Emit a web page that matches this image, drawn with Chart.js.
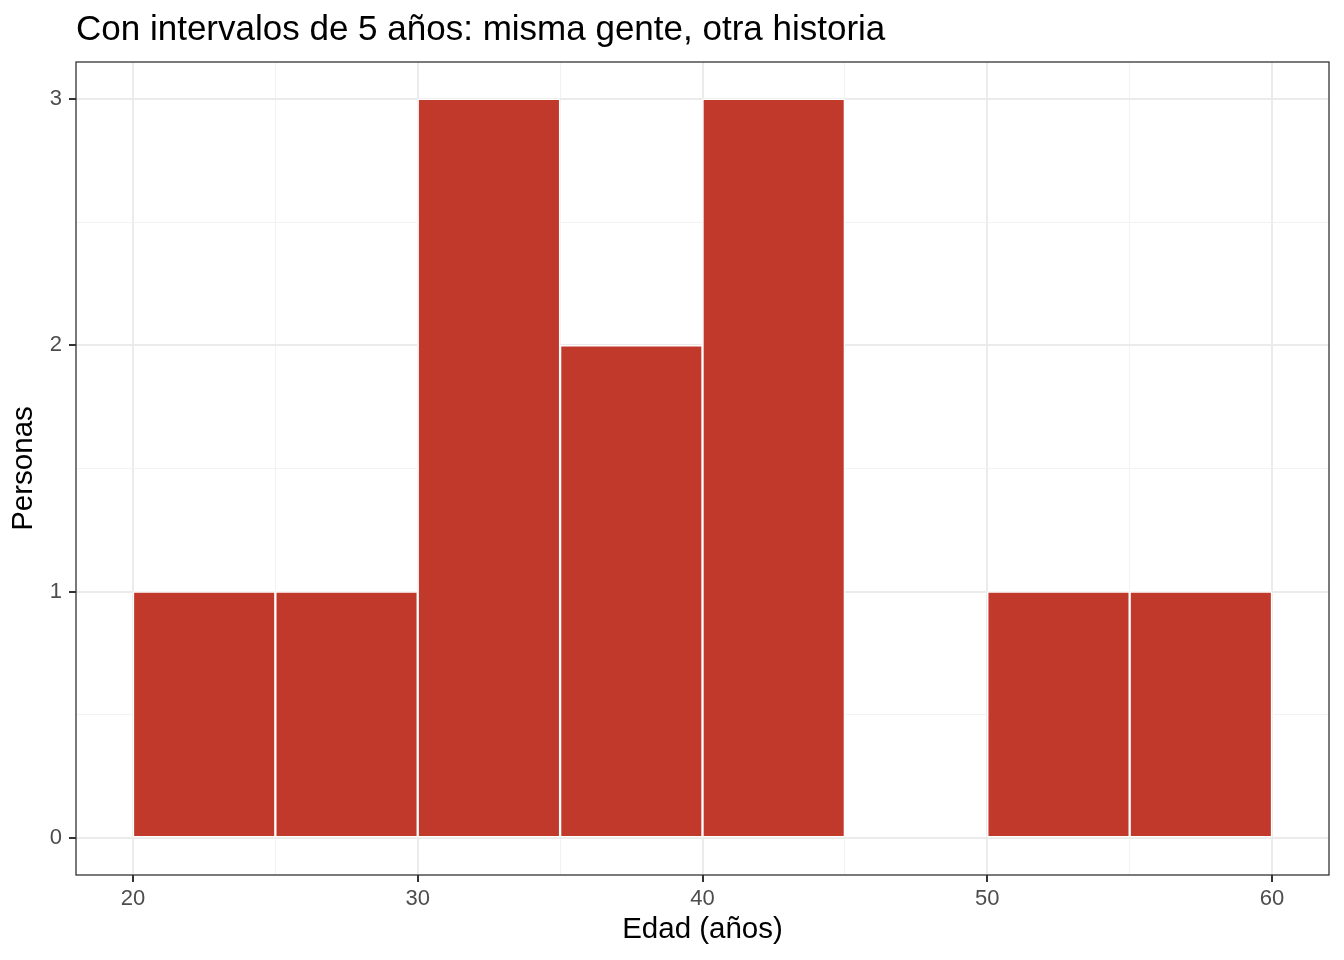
<!DOCTYPE html>
<html>
<head>
<meta charset="utf-8">
<script src="https://cdn.jsdelivr.net/npm/chart.js@4.4.1/dist/chart.umd.min.js"></script>
<style>
  html, body { margin: 0; padding: 0; background: #fff; }
  canvas { display: block; }
</style>
</head>
<body>
<canvas id="hist" width="1344" height="960"></canvas>
<script>
// Intervalos de 5 años (inicio de cada intervalo) y personas en cada uno
var binStarts = [20, 25, 30, 35, 40, 45, 50, 55];
var counts = [1, 1, 3, 2, 3, 0, 1, 1];
var binWidth = 5;
var xTicks = [20, 30, 40, 50, 60];
var yTicks = [0, 1, 2, 3];

var titleText = 'Con intervalos de 5 años: misma gente, otra historia';
var fontFam = '"Liberation Sans", Arial, Helvetica, sans-serif';

var points = binStarts.map(function (s, i) {
    return { x: s + binWidth / 2, y: counts[i] };
});

function isMajor(list, v) {
    return list.some(function (t) { return Math.abs(t - v) < 1e-6; });
}

// marco del panel y título
var panelPlugin = {
    id: 'panel',
    afterDraw: function (chart) {
        var a = chart.chartArea, ctx = chart.ctx;
        ctx.save();
        ctx.strokeStyle = '#333333';
        ctx.lineWidth = 1.3;
        ctx.strokeRect(a.left, a.top, a.right - a.left, a.bottom - a.top);
        ctx.fillStyle = '#000';
        ctx.font = '35px ' + fontFam;
        ctx.textBaseline = 'alphabetic';
        ctx.textAlign = 'left';
        ctx.fillText(titleText, a.left, 40);
        ctx.restore();
    }
};

var ctx = document.getElementById('hist').getContext('2d');
new Chart(ctx, {
    type: 'bar',
    data: {
        datasets: [{
            data: points,
            backgroundColor: '#C0392B',
            borderColor: '#FFFFFF',
            borderWidth: 1.5,
            borderSkipped: false,
            barPercentage: 1,
            categoryPercentage: 1
        }]
    },
    plugins: [panelPlugin],
    options: {
        responsive: false,
        animation: false,
        devicePixelRatio: 1,
        layout: { padding: { top: 62, right: 15, left: 0, bottom: 0 } },
        plugins: { legend: { display: false }, tooltip: { enabled: false }, title: { display: false } },
        scales: {
            x: {
                type: 'linear',
                min: 18,
                max: 62,
                offset: false,
                afterFit: function (s) { s.height = 85; },
                grid: {
                    offset: false,
                    tickLength: 7,
                    color: function (c) { return isMajor(xTicks, c.tick.value) ? '#EBEBEB' : '#F2F2F2'; },
                    lineWidth: function (c) { return isMajor(xTicks, c.tick.value) ? 2 : 1; },
                    tickColor: function (c) { return isMajor(xTicks, c.tick.value) ? '#333333' : 'rgba(0,0,0,0)'; },
                    tickWidth: 2
                },
                border: { display: false },
                ticks: {
                    stepSize: 5,
                    includeBounds: false,
                    autoSkip: false,
                    maxRotation: 0,
                    padding: 4,
                    color: '#4D4D4D',
                    font: { family: fontFam, size: 22 },
                    callback: function (v) { return isMajor(xTicks, v) ? String(v) : ''; }
                },
                title: {
                    display: true,
                    text: 'Edad (años)',
                    color: '#000',
                    font: { family: fontFam, size: 29.5 },
                    padding: { top: 0, bottom: 12 }
                }
            },
            y: {
                min: -0.15,
                max: 3.15,
                afterFit: function (s) { s.width = 76; },
                grid: {
                    tickLength: 7,
                    color: function (c) { return isMajor(yTicks, c.tick.value) ? '#EBEBEB' : '#F2F2F2'; },
                    lineWidth: function (c) { return isMajor(yTicks, c.tick.value) ? 2 : 1; },
                    tickColor: function (c) { return isMajor(yTicks, c.tick.value) ? '#333333' : 'rgba(0,0,0,0)'; },
                    tickWidth: 2
                },
                border: { display: false },
                ticks: {
                    stepSize: 0.5,
                    includeBounds: false,
                    autoSkip: false,
                    padding: 7,
                    color: '#4D4D4D',
                    font: { family: fontFam, size: 22 },
                    callback: function (v) { return isMajor(yTicks, v) ? String(v) : ''; }
                },
                title: {
                    display: true,
                    text: 'Personas',
                    color: '#000',
                    font: { family: fontFam, size: 29.5 },
                    padding: { top: 6, bottom: 0 }
                }
            }
        }
    }
});
</script>
</body>
</html>
